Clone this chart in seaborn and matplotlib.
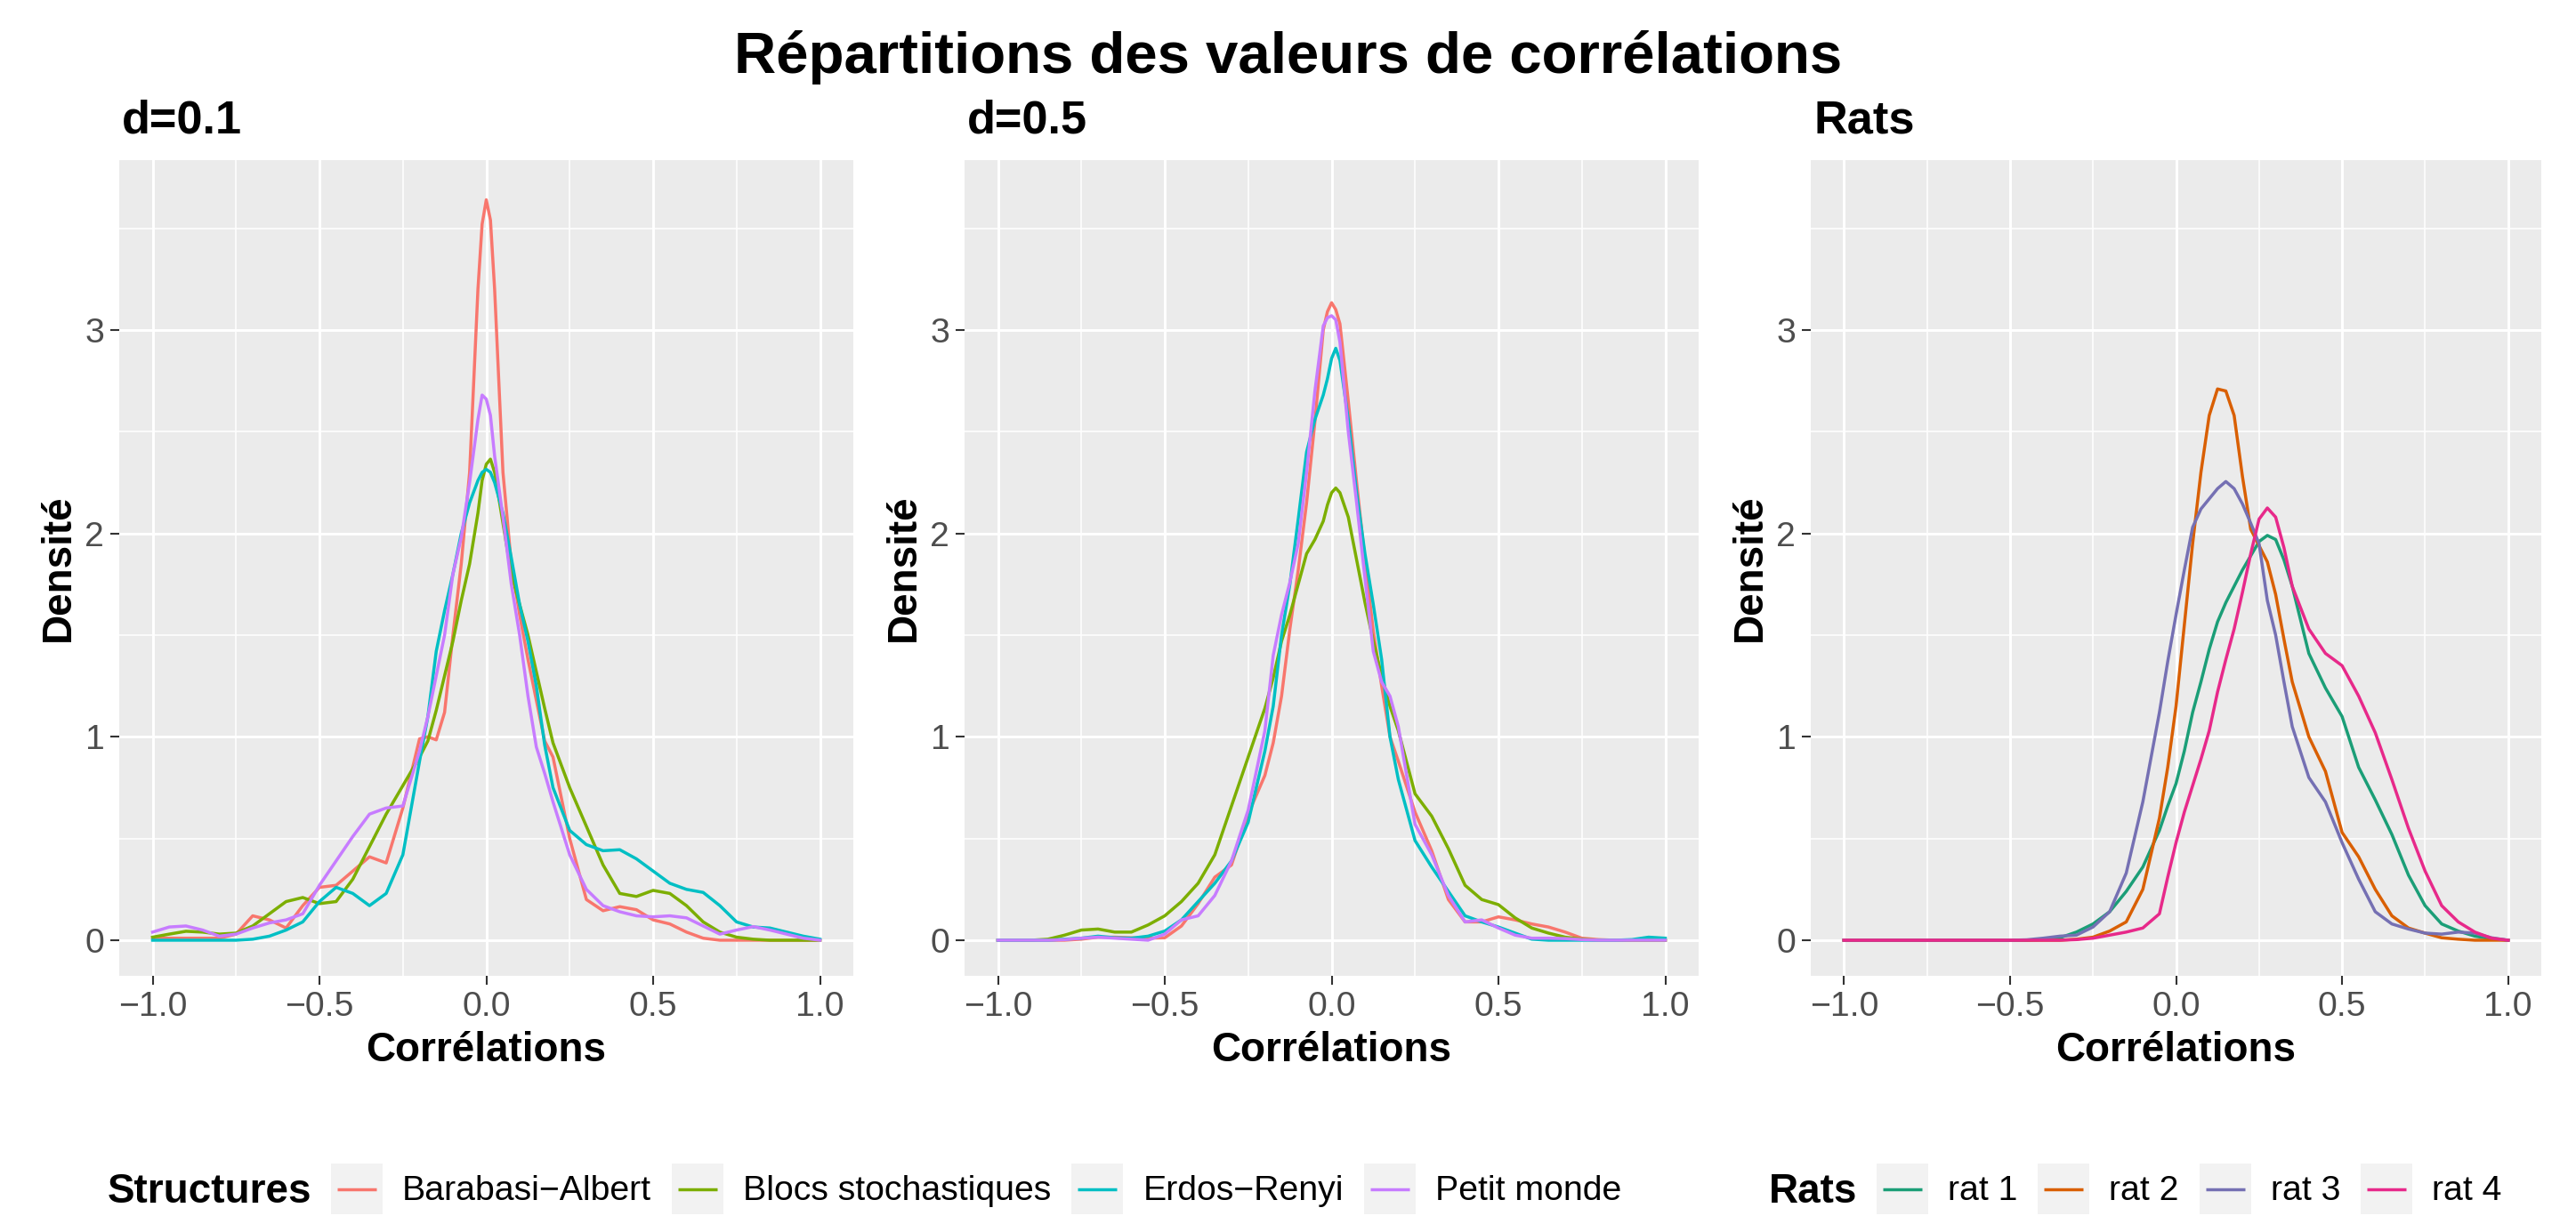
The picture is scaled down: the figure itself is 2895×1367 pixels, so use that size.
import numpy as np
import pandas as pd
import matplotlib
matplotlib.use("Agg")
import matplotlib.pyplot as plt
import matplotlib.transforms as mtransforms
from matplotlib.patches import Rectangle
from matplotlib.lines import Line2D
from matplotlib.legend_handler import HandlerBase
import seaborn as sns

# ---------------- data ----------------
MAIN_TITLE = "Répartitions des valeurs de corrélations"
PANEL_TITLES = ["d=0.1", "d=0.5", "Rats"]
X_LABEL = "Corrélations"
Y_LABEL = "Densité"

STRUCTURES = ["Barabasi\u2212Albert", "Blocs stochastiques", "Erdos\u2212Renyi", "Petit monde"]
STRUCT_COLORS = ["#F8766D", "#7CAE00", "#00BFC4", "#C77CFF"]
RATS = ["rat 1", "rat 2", "rat 3", "rat 4"]
RAT_COLORS = ["#1B9E77", "#D95F02", "#7570B3", "#E7298A"]
LEGEND_TITLES = ["Structures", "Rats"]

X_TICKS = [-1.0, -0.5, 0.0, 0.5, 1.0]
X_TICK_LABELS = ["\u22121.0", "\u22120.5", "0.0", "0.5", "1.0"]
X_MINOR = [-0.75, -0.25, 0.25, 0.75]
Y_TICKS = [0, 1, 2, 3]
Y_TICK_LABELS = ["0", "1", "2", "3"]
Y_MINOR = [0.5, 1.5, 2.5, 3.5]

# evaluation grid of the simulated-network panels
X_D = [-1.0, -0.95, -0.9, -0.85, -0.8, -0.75, -0.7, -0.65, -0.6, -0.55, -0.5, -0.45,
       -0.4, -0.35, -0.3, -0.25, -0.2, -0.175, -0.15, -0.125, -0.1, -0.075, -0.05,
       -0.025, -0.0125, 0.0, 0.0125, 0.025, 0.05, 0.075, 0.1, 0.125, 0.15, 0.175,
       0.2, 0.25, 0.3, 0.35, 0.4, 0.45, 0.5, 0.55, 0.6, 0.65, 0.7, 0.75, 0.8, 0.85,
       0.9, 0.95, 1.0]

# d = 0.1
BA_D01 = [0.01, 0.01, 0.01, 0.01, 0.01, 0.03, 0.12, 0.10, 0.06, 0.17, 0.26, 0.27,
          0.34, 0.41, 0.38, 0.65, 0.99, 1.00, 0.985, 1.12, 1.50, 1.85, 2.30, 3.20,
          3.52, 3.64, 3.54, 3.20, 2.30, 1.85, 1.60, 1.38, 1.18, 0.98, 0.90, 0.50,
          0.20, 0.145, 0.165, 0.15, 0.10, 0.08, 0.04, 0.01, 0.0, 0.0, 0.0, 0.0,
          0.0, 0.0, 0.0]
BS_D01 = [0.015, 0.03, 0.044, 0.04, 0.03, 0.035, 0.07, 0.13, 0.19, 0.21, 0.18, 0.19,
          0.30, 0.46, 0.62, 0.76, 0.90, 0.98, 1.13, 1.30, 1.47, 1.67, 1.85, 2.10,
          2.26, 2.34, 2.365, 2.30, 2.05, 1.80, 1.65, 1.50, 1.32, 1.14, 0.97, 0.75,
          0.56, 0.37, 0.23, 0.215, 0.245, 0.23, 0.17, 0.09, 0.04, 0.015, 0.005, 0.0,
          0.0, 0.0, 0.0]
ER_D01 = [0.0, 0.0, 0.0, 0.0, 0.0, 0.0, 0.005, 0.02, 0.05, 0.09, 0.19, 0.26,
          0.23, 0.17, 0.23, 0.42, 0.88, 1.10, 1.42, 1.62, 1.80, 2.00, 2.15, 2.26,
          2.30, 2.315, 2.30, 2.25, 2.10, 1.88, 1.65, 1.47, 1.25, 0.96, 0.75, 0.54,
          0.47, 0.44, 0.445, 0.40, 0.34, 0.28, 0.25, 0.235, 0.17, 0.09, 0.065, 0.06,
          0.04, 0.02, 0.005]
PM_D01 = [0.04, 0.065, 0.07, 0.05, 0.02, 0.03, 0.06, 0.085, 0.10, 0.13, 0.27, 0.39,
          0.51, 0.62, 0.65, 0.66, 0.93, 1.10, 1.30, 1.50, 1.80, 1.98, 2.25, 2.56,
          2.68, 2.66, 2.58, 2.38, 2.08, 1.75, 1.50, 1.20, 0.95, 0.82, 0.68, 0.42,
          0.25, 0.17, 0.14, 0.12, 0.115, 0.12, 0.11, 0.07, 0.03, 0.05, 0.067, 0.05,
          0.03, 0.01, 0.0]

# d = 0.5
BA_D05 = [0.0, 0.0, 0.0, 0.0, 0.0, 0.005, 0.015, 0.015, 0.012, 0.01, 0.012, 0.07,
          0.18, 0.31, 0.37, 0.62, 0.81, 0.97, 1.20, 1.53, 1.82, 2.15, 2.55, 3.00,
          3.09, 3.134, 3.10, 3.03, 2.65, 2.25, 1.87, 1.52, 1.25, 1.00, 0.88, 0.63,
          0.44, 0.20, 0.09, 0.09, 0.115, 0.10, 0.08, 0.065, 0.04, 0.01, 0.003, 0.0,
          0.0, 0.0, 0.0]
BS_D05 = [0.0, 0.0, 0.0, 0.005, 0.025, 0.05, 0.055, 0.04, 0.04, 0.075, 0.12, 0.19,
          0.28, 0.42, 0.66, 0.90, 1.14, 1.29, 1.47, 1.60, 1.75, 1.90, 1.97, 2.06,
          2.14, 2.20, 2.223, 2.20, 2.08, 1.87, 1.66, 1.47, 1.30, 1.15, 1.03, 0.72,
          0.61, 0.45, 0.27, 0.20, 0.175, 0.11, 0.06, 0.035, 0.015, 0.005, 0.0, 0.0,
          0.0, 0.0, 0.0]
ER_D05 = [0.0, 0.0, 0.0, 0.0, 0.005, 0.01, 0.02, 0.012, 0.01, 0.02, 0.045, 0.10,
          0.19, 0.28, 0.39, 0.58, 0.93, 1.15, 1.50, 1.75, 2.07, 2.40, 2.56, 2.68,
          2.76, 2.86, 2.91, 2.85, 2.56, 2.20, 1.90, 1.65, 1.38, 1.00, 0.79, 0.49,
          0.36, 0.24, 0.12, 0.09, 0.065, 0.035, 0.005, 0.0, 0.0, 0.0, 0.0, 0.0,
          0.003, 0.015, 0.01]
PM_D05 = [0.0, 0.0, 0.0, 0.0, 0.003, 0.01, 0.015, 0.01, 0.005, 0.0, 0.03, 0.10,
          0.12, 0.22, 0.39, 0.64, 1.03, 1.40, 1.60, 1.76, 1.95, 2.30, 2.70, 3.02,
          3.06, 3.07, 3.05, 2.94, 2.50, 2.15, 1.78, 1.42, 1.27, 1.20, 1.05, 0.57,
          0.42, 0.22, 0.09, 0.10, 0.06, 0.025, 0.01, 0.01, 0.008, 0.003, 0.0, 0.0,
          0.0, 0.0, 0.0]

# rats
X_R = [-1.0, -0.9, -0.8, -0.7, -0.6, -0.5, -0.45, -0.4, -0.35, -0.3, -0.25, -0.2,
       -0.15, -0.1, -0.05, -0.025, 0.0, 0.025, 0.05, 0.075, 0.1, 0.125, 0.15, 0.175,
       0.2, 0.225, 0.25, 0.275, 0.3, 0.325, 0.35, 0.4, 0.45, 0.5, 0.55, 0.6, 0.65,
       0.7, 0.75, 0.8, 0.85, 0.9, 0.95, 1.0]
RAT1 = [0.0, 0.0, 0.0, 0.0, 0.0, 0.0, 0.0, 0.003, 0.012, 0.04, 0.08, 0.14,
        0.24, 0.36, 0.54, 0.66, 0.77, 0.93, 1.12, 1.27, 1.43, 1.565, 1.66, 1.74,
        1.82, 1.89, 1.96, 1.99, 1.97, 1.87, 1.74, 1.41, 1.24, 1.10, 0.85, 0.69,
        0.52, 0.32, 0.17, 0.08, 0.045, 0.02, 0.007, 0.0]
RAT2 = [0.0, 0.0, 0.0, 0.0, 0.0, 0.0, 0.0, 0.0, 0.0, 0.005, 0.015, 0.045,
        0.09, 0.25, 0.60, 0.85, 1.15, 1.55, 1.95, 2.30, 2.58, 2.71, 2.70, 2.58,
        2.28, 2.02, 1.94, 1.86, 1.70, 1.48, 1.27, 1.00, 0.83, 0.53, 0.41, 0.25,
        0.12, 0.06, 0.035, 0.012, 0.005, 0.0, 0.0, 0.0]
RAT3 = [0.0, 0.0, 0.0, 0.0, 0.0, 0.0, 0.002, 0.01, 0.02, 0.025, 0.065, 0.14,
        0.33, 0.68, 1.12, 1.37, 1.60, 1.82, 2.03, 2.12, 2.17, 2.22, 2.255, 2.22,
        2.145, 2.05, 1.95, 1.67, 1.50, 1.27, 1.05, 0.80, 0.68, 0.48, 0.30, 0.14,
        0.08, 0.055, 0.035, 0.03, 0.04, 0.035, 0.012, 0.0]
RAT4 = [0.0, 0.0, 0.0, 0.0, 0.0, 0.0, 0.0, 0.0, 0.0, 0.003, 0.01, 0.025,
        0.04, 0.06, 0.13, 0.31, 0.48, 0.63, 0.76, 0.89, 1.03, 1.22, 1.38, 1.53,
        1.71, 1.90, 2.07, 2.125, 2.08, 1.93, 1.74, 1.53, 1.41, 1.35, 1.20, 1.02,
        0.79, 0.55, 0.34, 0.17, 0.09, 0.04, 0.01, 0.0]

# ---------------- style ----------------
W, H, DPI = 2895, 1367, 100
PANEL_BG = "#EBEBEB"
KEY_BG = "#F2F2F2"
LW = 2.5
FS_MAIN, FS_PANEL, FS_AXTITLE, FS_TICK, FS_LEGTEXT, FS_LEGTITLE = 47.1, 37.7, 33.0, 28.3, 28.3, 33.0

plt.rcParams["font.family"] = ["Liberation Sans", "DejaVu Sans"]
plt.rcParams["axes.unicode_minus"] = True
plt.rcParams["text.color"] = "black"
plt.rcParams["axes.labelcolor"] = "black"

fig = plt.figure(figsize=(W / DPI, H / DPI), dpi=DPI, facecolor="white")


def px_axes(left, top, right, bottom):
    return fig.add_axes([left / W, 1 - bottom / H, (right - left) / W, (bottom - top) / H])


ax1 = px_axes(134, 180, 959, 1097)
ax2 = px_axes(1084, 180, 1909, 1097)
ax3 = px_axes(2035, 180, 2856, 1097)
axes = [ax1, ax2, ax3]


def long_df(x, series, names, group):
    return pd.DataFrame({
        "x": np.tile(np.asarray(x, float), len(series)),
        "y": np.concatenate([np.asarray(s, float) for s in series]),
        group: np.repeat(names, len(x)),
    })


df1 = long_df(X_D, [BA_D01, BS_D01, ER_D01, PM_D01], STRUCTURES, "Structures")
df2 = long_df(X_D, [BA_D05, BS_D05, ER_D05, PM_D05], STRUCTURES, "Structures")
df3 = long_df(X_R, [RAT1, RAT2, RAT3, RAT4], RATS, "Rats")

spal = dict(zip(STRUCTURES, STRUCT_COLORS))
rpal = dict(zip(RATS, RAT_COLORS))

line_kw = dict(estimator=None, sort=False, linewidth=LW, solid_joinstyle="round")
sns.lineplot(data=df1, x="x", y="y", hue="Structures", hue_order=STRUCTURES, palette=spal,
             ax=ax1, legend=True, **line_kw)
sns.lineplot(data=df2, x="x", y="y", hue="Structures", hue_order=STRUCTURES, palette=spal,
             ax=ax2, legend=False, **line_kw)
sns.lineplot(data=df3, x="x", y="y", hue="Rats", hue_order=RATS, palette=rpal,
             ax=ax3, legend=True, **line_kw)

for ax, title in zip(axes, PANEL_TITLES):
    ax.set_facecolor(PANEL_BG)
    for s in ax.spines.values():
        s.set_visible(False)
    ax.set_xlim(-1.1, 1.1)
    ax.set_ylim(-0.175, 3.835)
    ax.set_xticks(X_TICKS)
    ax.set_xticklabels(X_TICK_LABELS)
    ax.set_xticks(X_MINOR, minor=True)
    ax.set_yticks(Y_TICKS)
    ax.set_yticklabels(Y_TICK_LABELS)
    ax.set_yticks(Y_MINOR, minor=True)
    ax.set_axisbelow(True)
    ax.grid(which="major", color="white", linewidth=2.1)
    ax.grid(which="minor", color="white", linewidth=1.1)
    ax.tick_params(which="major", length=7.5, width=1.5, color="#333333",
                   labelsize=FS_TICK, labelcolor="#4D4D4D", pad=4.5)
    ax.tick_params(which="minor", length=0)
    ax.set_xlabel(X_LABEL, fontsize=FS_AXTITLE, fontweight="bold", color="black")
    ax.set_ylabel(Y_LABEL, fontsize=FS_AXTITLE, fontweight="bold", color="black")
    ax.xaxis.set_label_coords(0.5, 0.0, transform=mtransforms.offset_copy(
        ax.transAxes, fig=fig, x=0, y=-62, units="dots"))
    ax.yaxis.set_label_coords(0.0, 0.5, transform=mtransforms.offset_copy(
        ax.transAxes, fig=fig, x=-46, y=0, units="dots"))
    ax.text(0.0, 1.0, title, transform=mtransforms.offset_copy(
        ax.transAxes, fig=fig, x=3, y=30, units="dots"),
        ha="left", va="baseline", fontsize=FS_PANEL, fontweight="bold", color="black")

fig.text(0.5, 1 - 82 / H, MAIN_TITLE, ha="center", va="baseline",
         fontsize=FS_MAIN, fontweight="bold", color="black")


class KeyHandler(HandlerBase):
    def create_artists(self, legend, orig_handle, xdescent, ydescent, width, height,
                       fontsize, trans):
        box = Rectangle((-xdescent, -ydescent), width, height, facecolor=KEY_BG,
                        edgecolor="none", transform=trans)
        yc = -ydescent + height / 2.0
        inset = width * 0.12
        ln = Line2D([-xdescent + inset, -xdescent + width - inset], [yc, yc],
                    color=orig_handle.get_color(), linewidth=LW,
                    solid_capstyle="butt", transform=trans)
        return [box, ln]


def move_legend(ax, key_left_px, title_left_px, title):
    leg = ax.get_legend()
    handles = list(leg.legend_handles)
    labels = [t.get_text() for t in leg.get_texts()]
    leg.remove()
    fpx = FS_LEGTEXT * DPI / 72.0
    fig.legend(handles, labels, loc="center left",
               bbox_to_anchor=(key_left_px / W, 1 - 1336.5 / H), ncol=len(labels),
               frameon=False, fontsize=FS_LEGTEXT, handlelength=58 / fpx,
               handleheight=1.855, handletextpad=22 / fpx, columnspacing=23 / fpx,
               borderpad=0, borderaxespad=0, handler_map={Line2D: KeyHandler()},
               labelcolor="black")
    fig.text(title_left_px / W, 1 - 1352 / H, title, ha="left", va="baseline",
             fontsize=FS_LEGTITLE, fontweight="bold", color="black")


move_legend(ax1, 372, 121, LEGEND_TITLES[0])
move_legend(ax3, 2109, 1988, LEGEND_TITLES[1])

fig.savefig("out.png", dpi=DPI, facecolor="white")
